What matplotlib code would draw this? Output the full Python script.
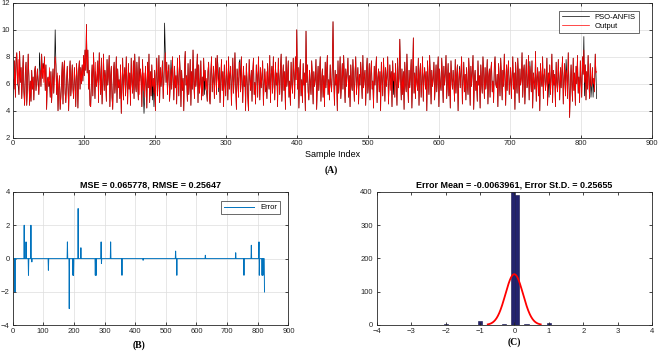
import numpy as np
import matplotlib
matplotlib.use("Agg")
import matplotlib.pyplot as plt

plt.rcParams['font.family'] = ['Liberation Sans', 'DejaVu Sans']

# ANFIS output (red)
output = [
    4.5, 6.3, 5.6, 7.7, 5.0, 7.9, 8.3, 6.0, 7.8, 5.2, 8.4, 6.1, 7.2, 4.9, 6.5, 8.1, 5.4, 4.4, 6.9, 7.6, 4.4, 5.8, 8.2, 6.6, 4.4,
    6.2, 4.7, 7.0, 5.6, 6.5, 4.8, 6.9, 7.3, 5.5, 6.2, 7.1, 6.0, 5.2, 6.3, 7.0, 5.8, 8.2, 6.4, 7.5, 6.1, 8.0, 5.5, 7.4, 4.1, 6.3,
    6.5, 5.8, 7.2, 5.0, 6.9, 4.6, 6.1, 7.1, 5.3, 6.8, 8.0, 7.4, 5.2, 6.8, 4.0, 5.7, 6.6, 4.1, 5.0, 6.3, 7.6, 4.5, 6.9, 7.7, 5.3,
    4.6, 6.2, 7.3, 5.8, 4.0, 6.6, 7.7, 5.1, 6.0, 7.4, 5.6, 4.9, 7.2, 6.1, 4.3, 7.5, 6.4, 4.2, 6.9, 7.7, 5.6, 7.2, 6.0, 7.4, 6.2,
    8.1, 6.6, 8.5, 7.0, 10.4, 6.8, 8.5, 5.6, 7.0, 4.4, 4.3, 6.2, 7.4, 5.1, 8.3, 6.5, 4.9, 7.6, 5.8, 6.3, 7.7, 4.6, 8.3, 6.7, 5.2,
    7.9, 4.5, 6.0, 8.2, 5.5, 7.0, 6.4, 4.7, 7.8, 5.9, 6.7, 8.1, 4.3, 6.5, 7.3, 5.0, 4.1, 6.9, 7.6, 5.3, 6.2, 8.0, 4.6, 7.1, 5.7,
    6.3, 4.9, 7.4, 3.8, 5.9, 7.9, 4.8, 6.6, 7.2, 5.1, 8.0, 6.1, 4.5, 7.5, 5.6, 6.8, 4.4, 7.9, 6.2, 5.3, 7.7, 4.9, 8.2, 6.0, 5.4,
    7.6, 6.3, 4.8, 8.0, 5.2, 7.1, 6.5, 4.3, 7.8, 5.5, 6.8, 5.0, 7.3, 6.0, 4.2, 7.6, 5.7, 8.2, 4.6, 6.9, 5.1, 7.4, 5.8, 6.4, 5.3,
    7.0, 4.0, 6.6, 7.9, 5.1, 6.2, 8.1, 4.6, 7.2, 5.8, 6.5, 7.7, 4.9, 6.3, 7.5, 8.3, 6.1, 7.6, 5.2, 6.9, 7.4, 4.7, 6.0, 7.1, 5.6,
    8.0, 6.4, 4.8, 7.3, 5.7, 6.6, 4.5, 7.9, 6.2, 5.1, 8.1, 6.8, 4.3, 7.0, 5.5, 6.4, 4.0, 7.2, 8.4, 5.9, 6.6, 4.7, 7.5, 5.2, 6.1,
    7.8, 4.4, 6.9, 5.6, 8.5, 6.3, 4.9, 7.1, 5.8, 6.7, 8.2, 4.6, 7.4, 5.3, 6.0, 7.7, 4.8, 6.5, 5.1, 7.9, 6.2, 7.0, 5.6, 6.4, 4.7,
    6.9, 7.6, 5.0, 4.5, 6.8, 8.0, 5.4, 6.2, 7.3, 4.9, 6.6, 7.9, 5.2, 8.1, 6.4, 5.7, 7.2, 4.6, 6.1, 7.8, 5.5, 6.9, 4.3, 7.4, 6.0,
    5.1, 7.7, 6.3, 4.8, 8.0, 5.6, 6.7, 7.3, 4.4, 6.2, 7.9, 5.3, 6.5, 8.3, 5.9, 4.1, 7.1, 6.4, 5.0, 7.6, 6.8, 5.4, 8.0, 6.1, 4.6,
    7.3, 5.8, 6.6, 4.0, 7.5, 6.2, 5.1, 4.0, 7.8, 6.4, 5.5, 7.0, 4.7, 6.8, 7.9, 5.2, 6.1, 4.5, 7.4, 6.6, 5.0, 8.0, 6.3, 4.8, 7.2,
    5.7, 6.5, 7.7, 4.4, 6.0, 7.1, 5.4, 6.9, 4.9, 7.5, 6.2, 5.6, 8.1, 4.6, 6.7, 7.3, 5.3, 8.0, 6.1, 4.8, 7.6, 5.9, 6.8, 4.3, 7.9,
    6.4, 5.2, 7.1, 8.2, 4.7, 6.3, 7.4, 5.5, 6.9, 4.1, 8.0, 5.8, 6.5, 7.7, 5.0, 6.2, 4.4, 7.6, 6.0, 5.3, 7.9, 6.7, 4.9, 8.0, 6.3,
    10.0, 5.6, 7.2, 4.2, 6.6, 7.8, 5.1, 6.3, 4.6, 7.5, 5.9, 6.8, 4.0, 9.9, 6.1, 7.4, 5.4, 4.8, 7.0, 6.2, 5.2, 7.7, 6.5, 4.5, 6.9,
    5.8, 6.4, 7.8, 4.1, 6.0, 7.3, 5.5, 6.7, 8.0, 4.7, 6.2, 7.1, 5.0, 6.6, 4.3, 7.6, 5.7, 6.9, 8.1, 5.2, 6.3, 4.8, 7.4, 6.0, 5.4,
    7.2, 10.6, 6.5, 4.4, 7.0, 5.9, 6.7, 4.0, 7.7, 5.3, 6.4, 8.0, 4.9, 6.1, 7.5, 5.6, 8.1, 6.3, 4.6, 7.1, 5.8, 6.8, 7.9, 5.0, 6.6,
    4.3, 7.4, 6.0, 5.5, 7.8, 6.2, 4.7, 6.9, 8.0, 5.2, 6.4, 7.2, 4.5, 6.7, 5.9, 7.6, 6.3, 4.9, 8.1, 5.7, 6.5, 7.0, 4.4, 6.8, 7.9,
    5.3, 6.1, 7.5, 4.8, 6.6, 7.7, 5.6, 6.2, 4.2, 7.3, 5.9, 6.8, 8.0, 4.6, 6.4, 7.1, 5.4, 6.9, 4.0, 7.6, 6.3, 5.1, 7.9, 6.5, 4.7,
    7.2, 5.8, 6.6, 8.0, 4.5, 6.1, 7.4, 5.5, 6.9, 4.3, 7.7, 6.2, 6.8, 5.0, 7.5, 6.0, 4.4, 7.9, 5.7, 6.4, 9.3, 6.7, 4.8, 7.1, 5.2,
    6.9, 4.1, 7.6, 6.0, 5.4, 8.2, 6.3, 4.6, 7.0, 5.7, 6.6, 7.8, 4.2, 6.4, 9.4, 5.3, 6.8, 4.9, 7.3, 6.1, 5.5, 7.9, 4.4, 6.7, 7.5,
    5.0, 6.2, 8.0, 4.7, 6.5, 7.2, 5.6, 6.9, 4.0, 7.7, 6.3, 5.2, 8.1, 6.6, 4.5, 7.0, 5.8, 6.4, 7.6, 4.8, 6.1, 7.4, 5.4, 6.8, 8.0,
    4.3, 7.1, 6.0, 5.5, 7.9, 6.5, 4.6, 7.3, 5.9, 6.7, 8.1, 4.9, 6.2, 7.5, 5.1, 6.8, 4.2, 7.7, 6.4, 5.6, 7.0, 6.1, 4.7, 7.8, 5.3,
    6.6, 7.4, 4.0, 6.3, 7.1, 5.7, 6.9, 8.0, 4.5, 6.2, 7.6, 5.4, 6.7, 4.8, 7.2, 6.0, 5.2, 7.9, 6.5, 4.4, 7.3, 5.8, 6.9, 8.1, 4.1,
    6.4, 7.0, 5.5, 6.2, 4.7, 7.7, 5.9, 6.6, 4.2, 7.4, 6.1, 5.3, 8.0, 6.8, 4.9, 7.2, 5.6, 6.3, 7.8, 4.5, 6.5, 7.1, 5.0, 6.9, 7.6,
    5.4, 6.2, 4.6, 7.3, 8.0, 6.0, 5.7, 6.7, 4.3, 7.5, 6.4, 5.1, 7.9, 6.6, 4.8, 7.0, 5.8, 8.2, 6.3, 4.4, 7.4, 5.5, 6.9, 7.7, 5.2,
    6.1, 7.2, 4.9, 6.5, 8.0, 5.6, 6.8, 4.1, 7.6, 6.2, 5.3, 7.9, 6.6, 4.6, 7.1, 5.9, 6.4, 8.3, 5.0, 6.9, 7.4, 4.5, 6.3, 7.8, 5.7,
    6.0, 8.1, 4.8, 7.3, 6.5, 5.4, 7.7, 4.2, 6.8, 6.1, 5.6, 8.4, 4.7, 6.4, 7.2, 5.1, 6.9, 4.0, 7.5, 6.3, 5.8, 8.0, 4.9, 6.6, 7.1,
    5.5, 6.2, 7.9, 4.4, 6.8, 6.0, 7.4, 5.2, 6.5, 8.2, 4.6, 7.0, 5.9, 6.7, 4.3, 7.6, 6.1, 5.4, 7.8, 6.4, 4.8, 7.2, 5.7, 6.9, 8.0,
    4.5, 6.3, 7.5, 5.1, 7.0, 6.6, 4.9, 8.3, 6.2, 3.5, 5.8, 7.4, 6.1, 4.7, 7.9, 5.5, 6.8, 4.4, 7.3, 6.0, 8.1, 5.3, 6.5, 4.6, 7.7,
    6.2, 5.0, 8.0, 6.7, 8.5, 6.1, 7.4, 4.8, 6.9, 5.6, 8.1, 6.3, 4.9, 7.5, 6.0, 5.8, 7.2, 6.0, 6.4, 5.4, 8.2, 6.8, 6.9,
]

# samples where the target (black) differs from the output, and by how much
err_idx = [0, 8, 38, 44, 52, 60, 63, 117, 179, 185, 197, 199, 214, 223, 270, 273,
           289, 290, 320, 357, 426, 532, 536, 629, 728, 755, 779, 804, 805, 814, 817, 822]
err_val = [1, -2, 2, 1, -1, 2, -0.2, -0.7, 1, -3, -1, -1, 3, 0.65, -1, -1,
           1, -0.3, 1, -1, -0.1, 0.45, -1, 0.2, 0.35, -1, 0.8, 1, -1, -1, -1, -2]

# histogram of errors
hist_centers = [-3.0, -2.0, -1.0, -0.3, -0.055, 0.065, 0.35, 1.0, 2.0, 3.0]
hist_counts = [1, 2, 11, 2, 400, 392, 2, 6, 1, 1]
err_mean = -0.0063961
err_std = 0.25655
mse = 0.065778
rmse = 0.25647

output = np.array(output)
target = output.copy()
target[err_idx] += np.array(err_val)
error = target - output
x = np.arange(len(output))

fig = plt.figure(figsize=(6.6, 3.54), dpi=100)
tick_fs = 5.5

def matlab_axes(ax):
    ax.tick_params(direction='in', top=True, right=True, labelsize=tick_fs,
                   length=2.5, width=0.6, colors='#262626', pad=2)
    for s in ax.spines.values():
        s.set_color('#262626')
        s.set_linewidth(0.6)

# (A)
ax1 = fig.add_axes([0.019, 0.611, 0.969, 0.381])
ax1.plot(x, target, color='black', lw=0.5, label='PSO-ANFIS')
ax1.plot(x, output, color='red', lw=0.5, label='Output')
ax1.set_xlim(0, 900)
ax1.set_ylim(2, 12)
ax1.set_xticks(range(0, 901, 100))
ax1.set_yticks(range(2, 13, 2))
ax1.grid(True, color='#dddddd', lw=0.5)
matlab_axes(ax1)
ax1.set_xlabel('Sample Index', fontsize=6.5, labelpad=2)
leg = ax1.legend(loc='upper right', fontsize=5.5, frameon=True, fancybox=False,
                 handlelength=3.5, borderpad=0.4, labelspacing=0.2,
                 bbox_to_anchor=(0.985, 0.97))
leg.get_frame().set_edgecolor('#262626')
leg.get_frame().set_linewidth(0.6)
fig.text(0.502, 0.518, '(A)', ha='center', va='center', fontsize=7,
         fontweight='bold', family='Liberation Serif')

# (B)
ax2 = fig.add_axes([0.019, 0.081, 0.418, 0.377])
ax2.plot(x, error, color='#0072BD', lw=0.7, label='Error')
ax2.set_xlim(0, 900)
ax2.set_ylim(-4, 4)
ax2.set_xticks(range(0, 901, 100))
ax2.set_yticks(range(-4, 5, 2))
ax2.grid(True, color='#dddddd', lw=0.5)
matlab_axes(ax2)
ax2.set_title(f'MSE = {mse}, RMSE = {rmse}', fontsize=6.5, fontweight='bold', pad=3)
leg2 = ax2.legend(loc='upper right', fontsize=5.5, frameon=True, fancybox=False,
                  handlelength=4, borderpad=0.4, bbox_to_anchor=(0.985, 0.96))
leg2.get_frame().set_edgecolor('#262626')
leg2.get_frame().set_linewidth(0.6)
fig.text(0.21, 0.024, '(B)', ha='center', va='center', fontsize=7,
         fontweight='bold', family='Liberation Serif')

# (C)
ax3 = fig.add_axes([0.571, 0.082, 0.417, 0.376])
bw = 0.12
ax3.bar(hist_centers, hist_counts, width=bw, color='#23236e', edgecolor='#15154a', lw=0.4)
xf = np.linspace(err_mean - 3 * err_std, err_mean + 3 * err_std, 200)
n = sum(hist_counts)
yf = n * bw / (err_std * np.sqrt(2 * np.pi)) * np.exp(-0.5 * ((xf - err_mean) / err_std) ** 2)
ax3.plot(xf, yf, color='red', lw=1.3)
ax3.set_xlim(-4, 4)
ax3.set_ylim(0, 400)
ax3.set_xticks(range(-4, 5))
ax3.set_yticks(range(0, 401, 100))
matlab_axes(ax3)
ax3.tick_params(axis='y', pad=3)
ax3.set_title(f'Error Mean = {err_mean}, Error St.D. = {err_std}', fontsize=6.5,
              fontweight='bold', pad=3)
fig.text(0.779, 0.032, '(C)', ha='center', va='center', fontsize=7,
         fontweight='bold', family='Liberation Serif')

fig.savefig('out.png', dpi=100)
